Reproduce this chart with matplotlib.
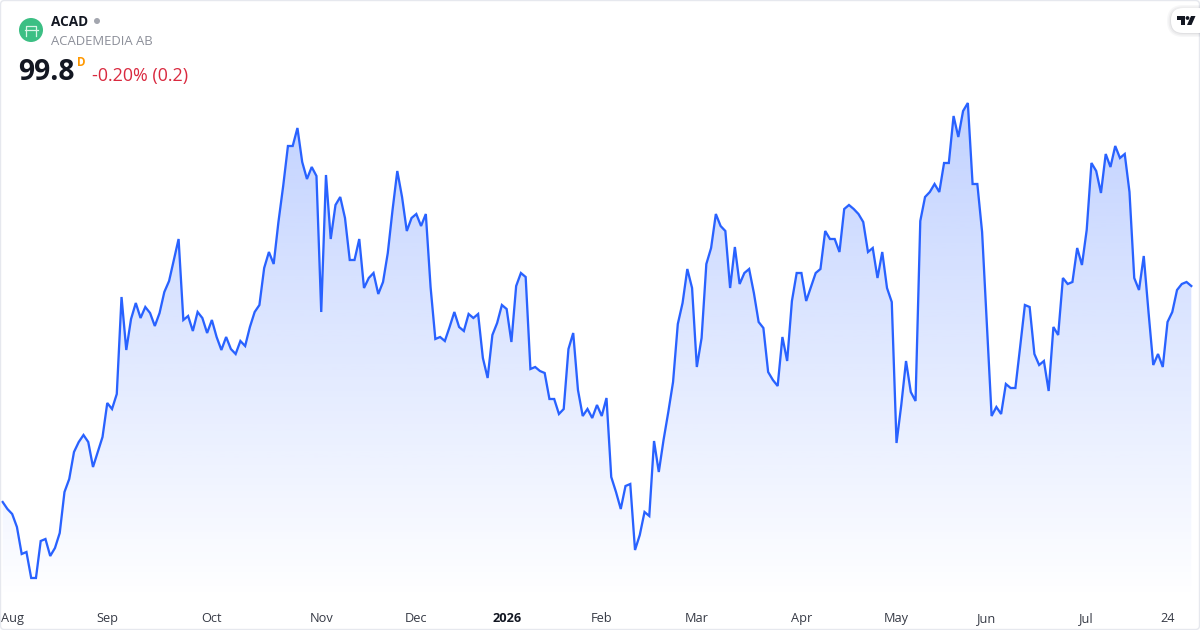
# ACAD area chart, TradingView mini widget look
import matplotlib
matplotlib.use('Agg')
import matplotlib.pyplot as plt
import numpy as np
from matplotlib.patches import Polygon, Circle, FancyBboxPatch

# Closing prices (trading days)
prices = [
    78.2, 77.5, 77.0, 75.7, 73.0, 73.2, 70.6, 70.6, 74.3, 74.5, 72.8, 73.6, 75.1, 79.2, 80.5, 83.2,
    84.2, 84.9, 84.2, 81.7, 83.2, 84.7, 88.1, 87.5, 89.0, 98.7, 93.4, 96.5, 98.1, 96.6, 97.7, 97.1,
    95.8, 97.1, 99.2, 100.3, 102.4, 104.5, 96.4, 96.8, 95.3, 97.2, 96.6, 95.1, 96.4, 94.7, 93.4, 94.7,
    93.5, 93.0, 94.3, 93.8, 95.7, 97.2, 97.9, 101.6, 103.2, 102.0, 106.2, 109.8, 113.8, 113.8, 115.6, 112.2,
    110.5, 111.7, 110.8, 97.2, 110.9, 104.5, 107.9, 108.7, 106.6, 102.4, 102.4, 104.5, 99.6, 100.6, 101.1, 99.0,
    100.2, 103.1, 107.4, 111.3, 108.7, 105.3, 106.6, 107.0, 105.8, 107.0, 99.7, 94.5, 94.7, 94.3, 95.7, 97.2,
    95.7, 95.3, 97.0, 96.6, 97.0, 92.6, 90.6, 94.9, 96.1, 97.9, 97.5, 94.2, 99.8, 101.1, 100.7, 91.5,
    91.7, 91.3, 91.1, 88.5, 88.5, 87.0, 87.5, 93.5, 95.1, 89.4, 86.8, 87.5, 86.6, 87.9, 86.8, 88.6,
    80.7, 79.2, 77.5, 79.8, 80.0, 73.4, 74.9, 77.2, 76.8, 84.3, 81.2, 84.4, 87.2, 90.2, 96.0, 98.1,
    101.5, 99.6, 91.7, 94.6, 102.0, 103.6, 107.0, 105.8, 105.3, 99.6, 103.7, 100.0, 101.1, 101.5, 99.1, 96.2,
    95.6, 91.2, 90.4, 89.8, 94.7, 92.3, 98.3, 101.1, 101.1, 98.3, 99.7, 101.1, 101.5, 105.3, 104.5, 104.5,
    103.2, 107.5, 107.9, 107.5, 107.0, 106.2, 103.2, 103.6, 100.6, 103.2, 99.6, 98.2, 84.1, 87.9, 92.3, 89.2,
    88.3, 106.3, 108.7, 109.2, 110.0, 109.2, 112.1, 112.1, 116.8, 114.7, 117.3, 118.1, 110.0, 110.0, 105.2, 96.1,
    86.8, 87.7, 87.0, 90.0, 89.6, 89.6, 93.7, 97.9, 97.7, 93.0, 91.9, 92.3, 89.3, 95.7, 94.9, 100.6,
    100.0, 100.2, 103.6, 101.9, 105.4, 112.1, 111.3, 109.1, 113.0, 111.7, 113.8, 112.6, 113.0, 109.2, 100.6, 99.4,
    102.8, 97.2, 91.9, 93.0, 91.7, 96.2, 97.2, 99.4, 100.0, 100.2, 99.8,
]

# Axis labels and the bar index each one sits at
tick_labels = ['Aug', 'Sep', 'Oct', 'Nov', 'Dec', '2026', 'Feb', 'Mar', 'Apr', 'May', 'Jun', 'Jul', '24']
tick_pos = [2, 22, 44, 67, 87, 106, 126, 146, 168, 188, 207, 228, 245]

plt.rcParams['font.family'] = ['Open Sans', 'DejaVu Sans']

fig = plt.figure(figsize=(12, 6.3), dpi=100, facecolor='white')

# Plot area covers the widget down to the label strip
ax = fig.add_axes([0, 30 / 630, 1, 600 / 630])
x = np.arange(len(prices))
y = np.array(prices)
step = 4.7545
x_left = -2.67 / step
x_right = (1200 - 2.67) / step
y_bottom, y_top = 68.4, 128.4

# Gradient under the line
grad = np.zeros((256, 1, 4))
grad[..., 0] = 41 / 255
grad[..., 1] = 98 / 255
grad[..., 2] = 1.0
grad[:, 0, 3] = np.linspace(0.30, 0.0, 256)
img = ax.imshow(grad, extent=[x_left, x_right, y_bottom, 120], aspect='auto', zorder=1)
verts = list(zip(x, y)) + [(x[-1], y_bottom), (x[0], y_bottom)]
clip = Polygon(verts, closed=True, transform=ax.transData, facecolor='none', edgecolor='none')
ax.add_patch(clip)
img.set_clip_path(clip)

ax.plot(x, y, color='#2962ff', lw=1.65, zorder=3, solid_joinstyle='miter')

ax.set_xlim(x_left, x_right)
ax.set_ylim(y_bottom, y_top)
ax.set_xticks(tick_pos, tick_labels)
ax.set_yticks([])
ax.tick_params(axis='x', length=0, pad=15.8, labelsize=9.2, labelcolor='#363a45')
for lab in ax.get_xticklabels():
    lab.set_verticalalignment('baseline')
ax.get_xticklabels()[5].set_fontweight('bold')
ax.get_xticklabels()[5].set_color('#131722')
for s in ax.spines.values():
    s.set_visible(False)

# Overlay in pixel coordinates for the header and widget frame
ov = fig.add_axes([0, 0, 1, 1], zorder=5)
ov.set_xlim(0, 1200)
ov.set_ylim(630, 0)
ov.axis('off')
ov.patch.set_alpha(0)

ov.add_patch(FancyBboxPatch((0.5, 0.5), 1199, 629, boxstyle='round,pad=0,rounding_size=4',
                            facecolor='none', edgecolor='#e6e8ee', lw=1.0))

# Logo
ov.add_patch(Circle((31, 30), 12, facecolor='#3cbf84', edgecolor='none'))
ov.plot([24.5, 37.5], [30, 30], color='#d8f5e6', lw=0.9)
ov.plot([26, 26, 36, 36], [36, 25.5, 25.5, 36], color='#d8f5e6', lw=0.9)

ov.text(51, 22.5, 'ACAD', fontsize=9.8, fontweight='bold', color='#131722', va='center', ha='left')
ov.add_patch(Circle((97, 21), 3, facecolor='#a3a6af', edgecolor='none'))
ov.text(51, 41.5, 'ACADEMEDIA AB', fontsize=9.45, color='#8c8f99', va='center', ha='left')
ov.text(18.5, 72.5, '99.8', fontsize=20.3, fontweight='bold', color='#131722', va='center', ha='left')
ov.text(77, 62, 'D', fontsize=8.4, fontweight='bold', color='#ff9800', va='center', ha='left')
ov.text(92, 75.5, '-0.20% (0.2)', fontsize=12.9, color='#d9293f', va='center', ha='left')

# TradingView badge, top right, soft shadow first
for grow, shade in [(4, 0.05), (2.5, 0.07), (1, 0.09)]:
    ov.add_patch(FancyBboxPatch((1171 - grow, 9 - grow), 40 + grow * 2, 24 + grow * 2,
                                boxstyle='round,pad=0,rounding_size=%g' % (12 + grow),
                                facecolor='#6a6d78', edgecolor='none', alpha=shade))
ov.add_patch(FancyBboxPatch((1171, 8), 40, 25, boxstyle='round,pad=0,rounding_size=12',
                            facecolor='white', edgecolor='none'))
ov.add_patch(Polygon([(1177, 16), (1185, 16), (1185, 25), (1181, 25), (1181, 20), (1177, 20)],
                     closed=True, facecolor='#131722', edgecolor='none'))
ov.add_patch(Circle((1187.5, 18), 1.9, facecolor='#131722', edgecolor='none'))
ov.add_patch(Polygon([(1191, 16), (1195.5, 16), (1191.5, 25), (1187, 25)],
                     closed=True, facecolor='#131722', edgecolor='none'))

fig.savefig('out.png', dpi=100)
